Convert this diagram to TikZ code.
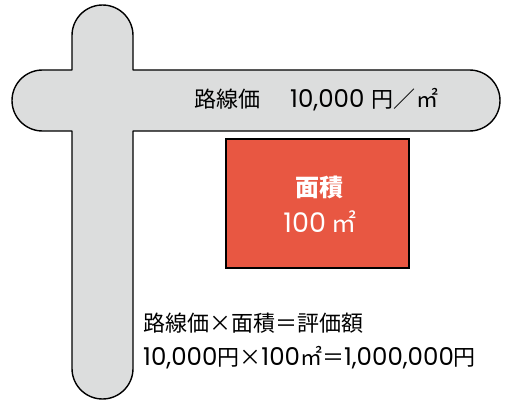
\documentclass[tikz,border=0pt]{standalone}
\usepackage{fontspec}
\newfontfamily\jp{Noto Sans CJK JP}
\newfontfamily\lat{Poppins}
\definecolor{roadgray}{RGB}{220,221,221}
\definecolor{lotred}{RGB}{232,87,66}
\newcommand{\numtxt}[1]{{\lat\fontsize{24.5}{28}\selectfont #1}}
\begin{document}
\begin{tikzpicture}[x=1pt,y=1pt,
  road/.style={fill=roadgray,draw=black,line width=1.4pt,line join=round},
  lot/.style={fill=lotred,draw=black,line width=2pt,minimum width=183pt,minimum height=129pt,inner sep=0pt,text=white,align=center},
  lbl/.style={font=\jp\fontsize{22}{26}\selectfont,inner sep=0pt}]
\useasboundingbox (0,0) rectangle (509,400);
\draw[road] (72,330) -- (72,364.5) arc[start angle=180,end angle=0,radius=30.5]
  -- (133,330) -- (469.5,330) arc[start angle=90,end angle=-90,radius=30.5]
  -- (133,269) -- (133,31.5) arc[start angle=0,end angle=-180,radius=30.5]
  -- (72,269) -- (42.5,269) arc[start angle=270,end angle=90,radius=30.5] -- cycle;
\node[lot] (lot) at (317.5,196.5) {};
\node[text=white,font=\jp\bfseries\fontsize{24}{28}\selectfont,inner sep=0pt] (area) at (319,213) {面積};
\node[text=white,font=\jp\fontsize{25}{28}\selectfont,inner sep=0pt] (areaval) at (320,178) {{\lat\fontsize{27}{30}\selectfont 100} ㎡};
\node[lbl,anchor=west] (price) at (194,300) {路線価\hspace{30pt}\numtxt{10,000}\hspace{7pt}円／\hspace{1pt}㎡};
\node[lbl,anchor=west] (formula) at (143,77) {路線価×面積＝評価額};
\node[lbl,anchor=west] (calc) at (143,42) {\numtxt{10,000}円×\numtxt{100}㎡＝\numtxt{1,000,000}円};
\end{tikzpicture}
\end{document}
